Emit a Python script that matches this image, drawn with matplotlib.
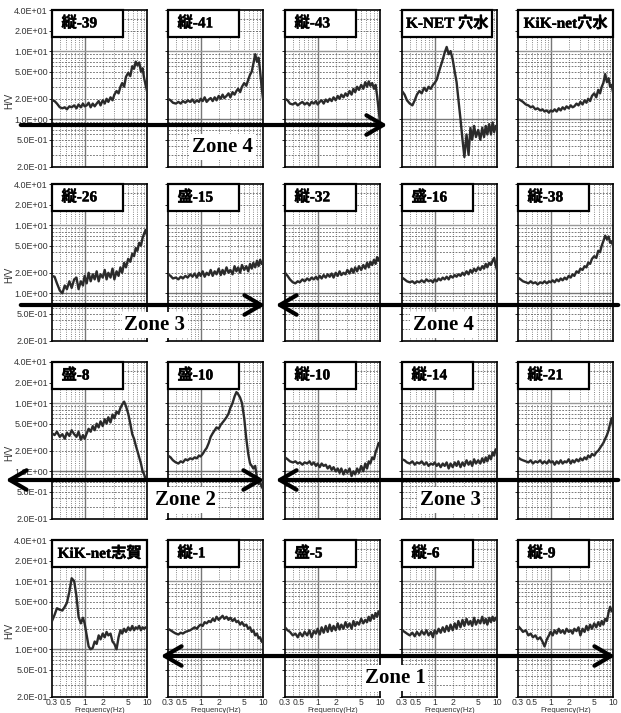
import matplotlib.pyplot as plt
import matplotlib.patheffects as pe
from matplotlib.patches import Rectangle, FancyArrowPatch

plt.rcParams['font.family'] = ['Liberation Sans', 'Noto Sans CJK JP']

# frequency samples (Hz), shared by every panel
freq = [0.3, 0.33, 0.36, 0.4, 0.44, 0.48, 0.52, 0.57, 0.62, 0.68,
        0.74, 0.8, 0.87, 0.94, 1.0, 1.08, 1.16, 1.25, 1.35, 1.45,
        1.56, 1.68, 1.8, 1.95, 2.1, 2.25, 2.4, 2.6, 2.8, 3.0,
        3.25, 3.5, 3.75, 4.0, 4.3, 4.6, 5.0, 5.4, 5.8, 6.2,
        6.6, 7.0, 7.5, 8.0, 8.5, 9.0, 9.5, 10.0]

# row 1
hv_t39 = [1.9, 1.85, 1.7, 1.5, 1.45, 1.5, 1.4, 1.55, 1.5, 1.6, 1.45, 1.65, 1.5, 1.7, 1.55, 1.6,
          1.75, 1.5, 1.7, 1.55, 1.7, 1.85, 1.6, 1.9, 1.7, 2.0, 1.8, 2.1, 1.9, 2.3, 2.6, 2.4,
          3.0, 3.4, 3.0, 4.2, 4.8, 4.3, 6.0, 5.5, 7.0, 6.2, 6.8, 5.0, 5.6, 4.0, 3.2, 2.6]
hv_t41 = [2.0, 1.9, 1.75, 1.7, 1.8, 1.7, 1.85, 1.75, 1.9, 1.8, 1.95, 1.75, 1.9, 1.8, 2.0, 1.85,
          2.1, 1.8, 1.95, 2.05, 1.85, 2.1, 1.9, 2.2, 2.0, 2.3, 2.05, 2.2, 2.4, 2.1, 2.5, 2.3,
          2.6, 2.8, 2.5, 3.0, 3.4, 3.1, 3.8, 4.5, 5.0, 6.5, 9.0, 7.0, 8.0, 5.0, 3.0, 2.0]
hv_t43 = [2.0, 1.9, 1.7, 1.65, 1.75, 1.6, 1.7, 1.8, 1.65, 1.75, 1.6, 1.8, 1.7, 1.85, 1.65, 1.8,
          1.9, 1.7, 1.95, 1.8, 2.0, 1.85, 2.1, 1.9, 2.2, 2.0, 2.3, 2.1, 2.4, 2.2, 2.6, 2.3,
          2.8, 2.5, 3.0, 2.7, 3.2, 2.8, 3.5, 3.0, 3.6, 3.1, 3.4, 2.8, 3.2, 2.2, 1.4, 0.9]
hv_knet_anamizu = [2.6, 2.3, 1.9, 1.7, 1.6, 1.9, 2.3, 2.6, 2.4, 2.9, 2.6, 3.0, 2.8, 3.2, 3.4, 3.8,
                   4.8, 6.0, 7.5, 9.5, 11.5, 9.0, 10.0, 7.5, 5.0, 3.5, 2.0, 1.0, 0.5, 0.28, 0.6, 0.3,
                   0.75, 0.5, 0.8, 0.55, 0.7, 0.5, 0.75, 0.55, 0.8, 0.6, 0.85, 0.6, 0.9, 0.65, 0.8, 0.7]
hv_kik_anamizu = [2.0, 1.9, 1.8, 1.65, 1.6, 1.5, 1.55, 1.4, 1.45, 1.35, 1.4, 1.3, 1.35, 1.25, 1.35, 1.3,
                  1.4, 1.3, 1.45, 1.35, 1.5, 1.4, 1.55, 1.45, 1.6, 1.5, 1.55, 1.7, 1.6, 1.8, 1.65, 1.9,
                  1.75, 2.0, 1.85, 2.2, 2.4, 2.1, 2.7, 2.4, 3.0, 3.4, 4.6, 3.5, 4.0, 3.0, 3.2, 2.5]
# row 2
hv_t26 = [1.8, 1.75, 1.4, 1.1, 1.0, 1.3, 1.15, 1.5, 1.2, 1.6, 1.7, 1.15, 1.5, 1.3, 1.8, 1.4,
          2.0, 1.5, 1.9, 1.6, 2.1, 1.5, 1.9, 1.7, 2.2, 1.6, 2.0, 1.7, 2.3, 1.6, 2.1, 1.8,
          2.4, 2.0, 2.8, 2.4, 3.2, 2.9, 3.8, 3.5, 4.6, 4.2, 5.5, 5.0, 6.5, 7.5, 8.5, 7.0]
hv_m15 = [1.9, 1.8, 1.65, 1.7, 1.6, 1.75, 1.65, 1.8, 1.7, 1.9, 1.75, 1.95, 1.7, 2.0, 1.8, 2.1,
          1.75, 2.0, 1.85, 2.2, 1.8, 2.1, 1.9, 2.3, 1.85, 2.2, 1.9, 2.4, 2.0, 2.2, 1.9, 2.5,
          2.1, 2.4, 2.0, 2.6, 2.2, 2.5, 2.1, 2.7, 2.3, 2.8, 2.4, 3.0, 2.5, 3.1, 2.7, 2.9]
hv_t32 = [2.0, 1.8, 1.6, 1.45, 1.4, 1.5, 1.45, 1.6, 1.5, 1.65, 1.55, 1.7, 1.6, 1.75, 1.6, 1.8,
          1.65, 1.85, 1.7, 1.9, 1.75, 1.95, 1.7, 2.0, 1.8, 2.1, 1.85, 2.0, 1.9, 2.2, 1.95, 2.3,
          2.0, 2.4, 2.1, 2.5, 2.2, 2.6, 2.3, 2.8, 2.4, 2.9, 2.6, 3.1, 2.7, 3.4, 3.0, 3.3]
hv_m16 = [1.7, 1.6, 1.5, 1.45, 1.5, 1.4, 1.5, 1.45, 1.55, 1.45, 1.6, 1.5, 1.55, 1.45, 1.6, 1.5,
          1.65, 1.55, 1.7, 1.6, 1.75, 1.6, 1.8, 1.7, 1.85, 1.75, 1.9, 1.8, 2.0, 1.85, 2.1, 1.9,
          2.2, 2.0, 2.3, 2.1, 2.4, 2.2, 2.5, 2.3, 2.7, 2.4, 2.8, 2.6, 3.0, 3.3, 2.6, 2.2]
hv_t38 = [1.7, 1.6, 1.5, 1.45, 1.4, 1.5, 1.4, 1.45, 1.35, 1.45, 1.4, 1.5, 1.4, 1.5, 1.45, 1.55,
          1.45, 1.6, 1.5, 1.65, 1.55, 1.7, 1.6, 1.8, 1.7, 1.9, 1.8, 2.1, 2.0, 2.3, 2.2, 2.5,
          2.4, 2.8, 2.7, 3.2, 3.5, 3.3, 4.2, 4.0, 5.0, 5.8, 7.0, 6.2, 6.8, 5.5, 5.8, 5.0]
# row 3
hv_m8 = [3.6, 3.4, 3.8, 3.2, 3.5, 3.0, 3.7, 3.3, 4.0, 3.5, 3.2, 3.8, 2.9, 3.4, 3.0, 3.6,
         4.2, 3.8, 4.6, 4.0, 5.0, 4.4, 5.4, 4.6, 5.8, 5.0, 6.2, 5.2, 6.8, 6.0, 7.5, 7.0,
         8.5, 9.5, 10.5, 9.0, 7.0, 5.0, 3.5, 3.0, 2.4, 2.0, 1.6, 1.3, 1.0, 0.9, 0.75, 0.85]
hv_m10 = [1.7, 1.6, 1.45, 1.35, 1.3, 1.4, 1.35, 1.5, 1.45, 1.55, 1.5, 1.6, 1.55, 1.7, 1.65, 1.8,
          2.0, 2.2, 2.6, 3.2, 3.6, 4.0, 4.4, 4.2, 4.8, 5.2, 5.6, 6.2, 7.0, 8.5, 10.0, 12.5,
          14.5, 13.5, 12.0, 10.0, 6.0, 3.0, 1.8, 1.3, 1.2, 1.1, 1.2, 0.8, 0.65, 0.7, 0.6, 0.55]
hv_t10 = [1.6, 1.5, 1.4, 1.35, 1.4, 1.3, 1.35, 1.25, 1.35, 1.3, 1.4, 1.25, 1.35, 1.2, 1.3, 1.15,
          1.3, 1.2, 1.25, 1.1, 1.2, 1.05, 1.15, 1.0, 1.1, 0.95, 1.1, 0.9, 1.05, 0.95, 1.1, 0.85,
          1.0, 0.9, 1.1, 0.95, 1.2, 1.0, 1.3, 1.1, 1.4, 1.3, 1.6, 1.5, 1.9, 2.2, 2.6, 2.4]
hv_t14 = [1.5, 1.45, 1.35, 1.3, 1.4, 1.25, 1.35, 1.3, 1.4, 1.25, 1.35, 1.2, 1.3, 1.25, 1.35, 1.2,
          1.3, 1.15, 1.3, 1.2, 1.35, 1.1, 1.3, 1.15, 1.35, 1.2, 1.4, 1.15, 1.35, 1.2, 1.45, 1.25,
          1.4, 1.2, 1.5, 1.3, 1.45, 1.3, 1.55, 1.35, 1.6, 1.4, 1.7, 1.5, 1.9, 1.7, 2.1, 2.0]
hv_t21 = [1.6, 1.5, 1.45, 1.4, 1.35, 1.45, 1.3, 1.4, 1.35, 1.45, 1.3, 1.4, 1.3, 1.45, 1.35, 1.4,
          1.25, 1.4, 1.3, 1.45, 1.3, 1.4, 1.35, 1.5, 1.3, 1.45, 1.35, 1.5, 1.4, 1.55, 1.45, 1.6,
          1.5, 1.7, 1.6, 1.8, 1.7, 1.9, 2.0, 2.2, 2.4, 2.6, 3.0, 3.4, 4.0, 5.0, 6.0, 4.5]
# row 4
hv_kik_shika = [2.6, 3.2, 4.0, 3.8, 3.7, 4.2, 4.8, 7.0, 11.0, 10.0, 6.0, 3.0, 2.4, 2.9, 2.4, 1.6,
                1.1, 1.0, 1.05, 1.3, 1.2, 1.6, 1.4, 1.7, 1.5, 1.8, 1.6, 1.7, 1.3, 1.2, 1.0, 1.5,
                1.9, 1.7, 2.0, 1.8, 2.1, 1.9, 2.2, 1.9, 2.1, 2.0, 2.2, 1.9, 2.1, 2.0, 2.1, 2.0]
hv_t1 = [2.0, 1.9, 1.8, 1.7, 1.65, 1.75, 1.7, 1.8, 1.85, 1.9, 2.0, 2.1, 2.0, 2.2, 2.3, 2.2,
         2.5, 2.4, 2.6, 2.5, 2.8, 2.6, 3.0, 2.7, 2.9, 3.1, 2.8, 3.0, 2.7, 2.9, 2.6, 2.8,
         2.5, 2.6, 2.3, 2.5, 2.2, 2.3, 2.0, 2.1, 1.8, 1.9, 1.6, 1.7, 1.45, 1.5, 1.3, 1.25]
hv_m5 = [2.1, 1.9, 1.8, 1.6, 1.7, 1.5, 1.75, 1.55, 1.8, 1.6, 1.9, 1.5, 1.85, 1.7, 2.0, 1.65,
         2.1, 1.75, 2.2, 1.8, 2.3, 1.85, 2.2, 1.9, 2.4, 1.95, 2.3, 2.0, 2.5, 2.1, 2.4, 2.0,
         2.6, 2.2, 2.5, 2.3, 2.8, 2.4, 2.7, 2.5, 3.0, 2.6, 3.2, 2.8, 3.4, 3.0, 3.6, 3.3]
hv_t6 = [1.9, 1.8, 1.7, 1.6, 1.75, 1.55, 1.8, 1.6, 1.85, 1.65, 1.9, 1.6, 1.8, 1.5, 1.9, 1.7,
         2.0, 1.75, 2.1, 1.8, 2.2, 1.85, 2.3, 1.9, 2.4, 2.0, 2.6, 2.1, 2.7, 2.2, 2.8, 2.3,
         2.6, 2.2, 2.9, 2.3, 2.7, 2.4, 3.0, 2.4, 2.8, 2.3, 2.9, 2.5, 3.0, 2.6, 2.9, 2.7]
hv_t9 = [2.2, 2.0, 1.8, 1.9, 1.6, 1.7, 1.5, 1.6, 1.4, 1.5, 1.3, 1.1, 1.4, 1.6, 1.8, 1.6,
         1.9, 1.7, 2.0, 1.75, 1.9, 1.7, 2.0, 1.8, 1.9, 1.7, 2.0, 1.85, 2.1, 1.6, 2.0, 1.8,
         2.2, 1.9, 2.3, 2.0, 2.4, 2.1, 2.5, 2.2, 2.6, 2.3, 2.8, 2.6, 3.5, 4.2, 3.6, 4.0]

station_labels = ['縦-39', '縦-41', '縦-43', 'K-NET 穴水', 'KiK-net穴水',
                  '縦-26', '盛-15', '縦-32', '盛-16', '縦-38',
                  '盛-8', '盛-10', '縦-10', '縦-14', '縦-21',
                  'KiK-net志賀', '縦-1', '盛-5', '縦-6', '縦-9']
curves = [hv_t39, hv_t41, hv_t43, hv_knet_anamizu, hv_kik_anamizu,
          hv_t26, hv_m15, hv_t32, hv_m16, hv_t38,
          hv_m8, hv_m10, hv_t10, hv_t14, hv_t21,
          hv_kik_shika, hv_t1, hv_m5, hv_t6, hv_t9]

y_ticks = [0.2, 0.5, 1, 2, 5, 10, 20, 40]
y_tick_labels = ['2.0E-01', '5.0E-01', '1.0E+00', '2.0E+00', '5.0E+00', '1.0E+01', '2.0E+01', '4.0E+01']
x_ticks = [0.3, 0.5, 1, 2, 5, 10]
x_tick_labels = ['0.3', '0.5', '1', '2', '5', '10']

x_grid_minor = [0.4, 0.5, 0.6, 0.7, 0.8, 0.9, 2, 3, 4, 5, 6, 7, 8, 9]
y_grid_minor = [0.3, 0.4, 0.5, 0.6, 0.7, 0.8, 0.9, 2, 3, 4, 5, 6, 7, 8, 9, 20, 30]

# zone annotations (figure pixel positions)
zone_texts = [('Zone 4', 222, 147), ('Zone 3', 155, 325), ('Zone 4', 443, 325),
              ('Zone 2', 185, 500), ('Zone 3', 450, 500), ('Zone 1', 395, 678)]
zone_arrows = [(18, 390, 125, '->'), (18, 268, 305, '->'), (621, 273, 305, '->'),
               (3, 267, 480, '<->'), (621, 273, 480, '->'), (158, 618, 656, '<->')]

W, H = 621, 713
col_left = [52, 168, 285, 402, 518]
row_top = [10, 184, 362, 540]
ax_w, ax_h = 95, 157

fig = plt.figure(figsize=(W / 100, H / 100), dpi=100)
fig.patch.set_facecolor('white')


def fx(px):
    return px / W


def fy(py):
    return 1 - py / H


label_font = dict(fontsize=11, fontweight='bold', family=['Liberation Serif', 'Noto Sans CJK JP'],
                  zorder=6, path_effects=[pe.withStroke(linewidth=0.3, foreground='black')])

for i, (label, hv) in enumerate(zip(station_labels, curves)):
    r, c = divmod(i, 5)
    ax = fig.add_axes([fx(col_left[c]), fy(row_top[r] + ax_h), ax_w / W, ax_h / H])
    ax.set_xscale('log')
    ax.set_yscale('log')
    ax.set_xlim(0.3, 10)
    ax.set_ylim(0.2, 40)
    ax.minorticks_off()

    for xv in x_grid_minor:
        ax.axvline(xv, color='#444444', lw=0.5, ls=(0, (1.2, 2.0)), zorder=1)
    for yv in y_grid_minor:
        ax.axhline(yv, color='#444444', lw=0.5, ls=(0, (2.5, 2.0)), zorder=1)
    ax.axvline(1, color='#777777', lw=1.0, zorder=1)
    ax.axhline(1, color='#777777', lw=1.0, zorder=1)
    ax.axhline(10, color='#999999', lw=1.0, zorder=1)

    ax.plot(freq, hv, color='#2b2b2b', lw=1.7, zorder=3)

    ax.set_yticks(y_ticks)
    ax.set_yticklabels(y_tick_labels if c == 0 else [])
    ax.set_xticks(x_ticks)
    ax.set_xticklabels(x_tick_labels if r == 3 else [])
    ax.tick_params(axis='y', length=2, width=0.6, pad=1, labelsize=6.5, labelcolor='#333333')
    ax.tick_params(axis='x', length=0, pad=1, labelsize=6.2, labelcolor='#333333')

    if c == 0:
        ax.set_ylabel('H/V', fontsize=7, color='#333333')
        ax.yaxis.set_label_coords(-0.40, 0.42)
    if r == 3:
        ax.set_xlabel('Frequency(Hz)', fontsize=5.5, color='#333333', labelpad=-0.5)

    for s in ax.spines.values():
        s.set_linewidth(1.2)
        s.set_color('black')

    if label.startswith('KiK'):
        bw = 1.0
    elif label.startswith('K-NET'):
        bw = 0.95
    else:
        bw = 0.75
    bh = 0.172
    ax.add_patch(Rectangle((0, 1 - bh), bw, bh, transform=ax.transAxes, fc='white',
                           ec='black', lw=1.6, zorder=5, clip_on=False))
    if bw < 0.9:
        ax.text(0.1, 1 - bh / 2, label, transform=ax.transAxes, ha='left', va='center', **label_font)
    else:
        ax.text(bw / 2, 1 - bh / 2, label, transform=ax.transAxes, ha='center', va='center', **label_font)

for x0, x1, y, style in zone_arrows:
    arr = FancyArrowPatch((fx(x0), fy(y)), (fx(x1), fy(y)), transform=fig.transFigure,
                          arrowstyle=style + ',head_length=0.6,head_width=0.35',
                          mutation_scale=20, lw=3, color='black', zorder=8)
    fig.add_artist(arr)

for txt, x, y in zone_texts:
    fig.text(fx(x), fy(y), txt, ha='center', va='center', fontsize=15, fontweight='bold',
             family='Liberation Serif', zorder=9,
             bbox=dict(fc='white', ec='none', pad=2))

fig.savefig('out.png', dpi=100, facecolor='white')
